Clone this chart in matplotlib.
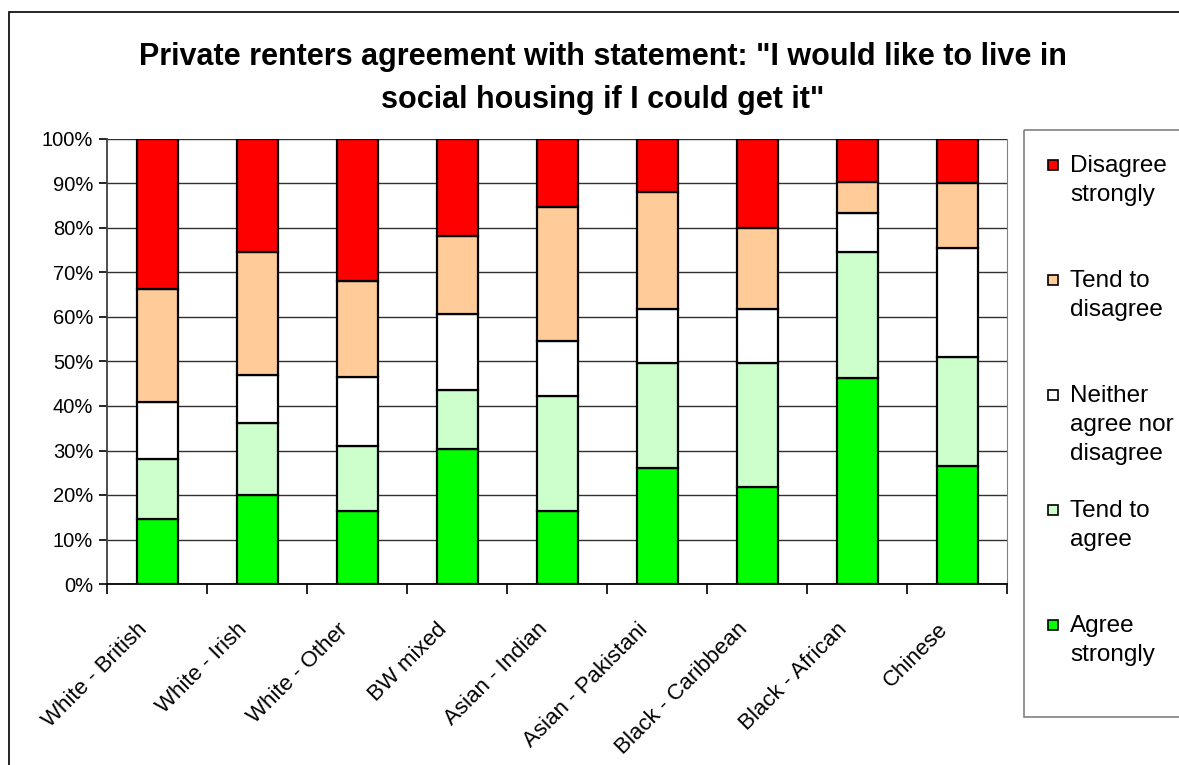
import numpy as np
import matplotlib.pyplot as plt
import matplotlib.transforms as mtransforms
from matplotlib.patches import Rectangle

plt.rcParams['font.family'] = ['Liberation Sans', 'DejaVu Sans']

groups = ['White - British', 'White - Irish', 'White - Other', 'BW mixed',
          'Asian - Indian', 'Asian - Pakistani', 'Black - Caribbean',
          'Black - African', 'Chinese']

# percentage of respondents in each answer band
agree_strongly = [14.7, 19.9, 16.5, 30.4, 16.5, 26.1, 21.7, 46.2, 26.5]
tend_agree = [13.5, 16.2, 14.4, 13.1, 25.7, 23.6, 28.0, 28.3, 24.4]
neither = [12.7, 10.9, 15.7, 17.2, 12.3, 12.2, 12.2, 8.9, 24.7]
tend_disagree = [25.4, 27.6, 21.5, 17.4, 30.2, 26.3, 18.0, 6.9, 14.4]
disagree_strongly = [33.7, 25.4, 31.9, 21.9, 15.3, 11.8, 20.1, 9.7, 10.0]

series = [
    ('Agree\nstrongly', agree_strongly, '#00FF00'),
    ('Tend to\nagree', tend_agree, '#CCFFCC'),
    ('Neither\nagree nor\ndisagree', neither, '#FFFFFF'),
    ('Tend to\ndisagree', tend_disagree, '#FFCC99'),
    ('Disagree\nstrongly', disagree_strongly, '#FF0000'),
]

fig = plt.figure(figsize=(11.79, 7.65), dpi=100)
W, H = 1179, 765

# outer chart frame
fig.patches.append(Rectangle((9 / W, -0.1), 1.2, 1 - 12 / H + 0.1,
                             transform=fig.transFigure, fill=False,
                             edgecolor='black', linewidth=1.2))

ax = fig.add_axes([107 / W, 1 - 584 / H, 900 / W, 445 / H])

x = np.arange(len(groups))
bottom = np.zeros(len(groups))
for label, vals, color in series:
    vals = np.array(vals)
    ax.bar(x, vals, 0.41, bottom=bottom, color=color, edgecolor='black',
           linewidth=1.6, label=label, zorder=3)
    bottom += vals

ax.set_xlim(-0.5, len(groups) - 0.5)
ax.set_ylim(0, 100)
ax.set_yticks(np.arange(0, 101, 10))
ax.set_yticklabels([f'{v}%' for v in range(0, 101, 10)], fontsize=14.5)
ax.yaxis.grid(True, color='#303030', linewidth=1.0, zorder=0)
ax.set_axisbelow(True)

ax.set_xticks(x)
ax.set_xticklabels(groups, rotation=45, ha='right', va='top',
                   rotation_mode='anchor', fontsize=16)
ax.set_xticks(np.arange(-0.5, len(groups)), minor=True)
ax.tick_params(axis='x', which='major', length=0, pad=0)
ax.tick_params(axis='x', which='minor', length=7, width=1.2)
ax.tick_params(axis='y', length=6, width=1.2, pad=4)
shift = mtransforms.ScaledTranslation(-14.5 / 72, -25 / 72, fig.dpi_scale_trans)
for lbl in ax.get_xticklabels():
    lbl.set_transform(lbl.get_transform() + shift)

ax.spines['right'].set_color('#808080')
ax.spines['left'].set_color('#404040')
ax.spines['left'].set_linewidth(1.3)
ax.spines['bottom'].set_linewidth(1.3)
ax.spines['top'].set_visible(False)

fig.text(603 / W, 1 - 57 / H, 'Private renters agreement with statement: "I would like to live in',
         ha='center', va='center', fontsize=22, fontweight='bold')
fig.text(603 / W, 1 - 100 / H, 'social housing if I could get it"',
         ha='center', va='center', fontsize=22, fontweight='bold')

# legend box drawn on the right, top entry first
leg = fig.add_axes([1024 / W, 1 - 717 / H, 170 / W, 587 / H])
leg.set_xlim(1024, 1194)
leg.set_ylim(717, 130)
leg.axis('off')
leg.add_patch(Rectangle((1024, 130), 170, 587, fill=False,
                        edgecolor='#808080', linewidth=1.2, clip_on=False))
y0 = 165
for i, (label, vals, color) in enumerate(series[::-1]):
    y = y0 + i * 115
    leg.add_patch(Rectangle((1048, y - 5), 10, 10, facecolor=color,
                            edgecolor='black', linewidth=1.2))
    leg.text(1070, y - 10, label, ha='left', va='top', fontsize=17.5,
             linespacing=1.4)

fig.savefig('out.png', dpi=100)
